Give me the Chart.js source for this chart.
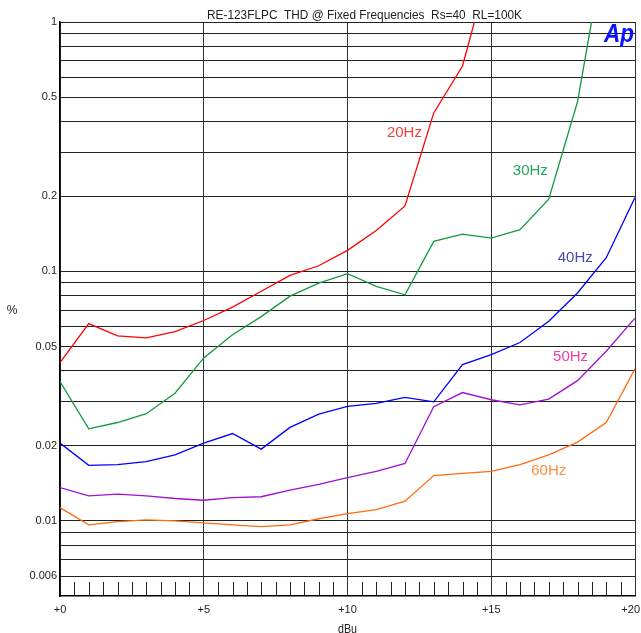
<!DOCTYPE html>
<html>
<head>
<meta charset="utf-8">
<script src="https://cdn.jsdelivr.net/npm/chart.js@4.4.1/dist/chart.umd.min.js"></script>
<style>
  html, body { margin: 0; padding: 0; background: #fff; }
  #wrap { width: 641px; height: 633px; position: relative; }
</style>
</head>
<body>
<div id="wrap"><canvas id="thdChart"></canvas></div>
<script>
// RE-123FLPC THD vs level, fixed frequencies

const levels = [0, 1, 2, 3, 4, 5, 6, 7, 8, 9, 10, 11, 12, 13, 14, 15, 16, 17, 18, 19, 20];

const thd20 = [0.0431, 0.0618, 0.0552, 0.0542, 0.0574, 0.0636, 0.0719, 0.0833, 0.0964, 0.1054, 0.1215,
               0.146, 0.183, 0.432, 0.666, 1.77, null, null, null, null, null];
const thd30 = [0.0362, 0.0234, 0.0248, 0.0269, 0.0325, 0.045, 0.0558, 0.0659, 0.0796, 0.0898, 0.098,
               0.0871, 0.0806, 0.132, 0.141, 0.136, 0.147, 0.195, 0.479, 2.16, null];
const thd40 = [0.0205, 0.0167, 0.0168, 0.0173, 0.0184, 0.0205, 0.0224, 0.0194, 0.0237, 0.0268, 0.0288,
               0.0296, 0.0313, 0.0300, 0.0423, 0.0464, 0.0519, 0.0631, 0.082, 0.1135, 0.198];
const thd50 = [0.0136, 0.0126, 0.0128, 0.0126, 0.0123, 0.0121, 0.0124, 0.0125, 0.0133, 0.0140, 0.0149,
               0.0158, 0.0170, 0.0287, 0.0327, 0.0306, 0.0292, 0.0308, 0.0365, 0.0479, 0.065];
const thd60 = [0.0113, 0.00964, 0.00994, 0.0101, 0.0100, 0.00982, 0.00964, 0.00949, 0.00964, 0.0102, 0.0107,
               0.0111, 0.0120, 0.0152, 0.0155, 0.0158, 0.0168, 0.0184, 0.0207, 0.0248, 0.0407];

const seriesNames = ['20Hz', '30Hz', '40Hz', '50Hz', '60Hz'];
const seriesData = [thd20, thd30, thd40, thd50, thd60];
const lineColors = ['#ff0000', '#119a3c', '#0000ff', '#a010d0', '#ff6a14'];
const labelColors = ['#f04040', '#22a860', '#4a4aa8', '#f03c9c', '#f59040'];
// where each curve's name sits, in data units
const labelAtX = [11.98, 16.36, 17.92, 17.76, 17.0];
const labelAtY = [0.36, 0.253, 0.1135, 0.0453, 0.0159];

const xTicks = [0, 5, 10, 15, 20];
const yGrid = [0.005, 0.006, 0.007, 0.008, 0.009, 0.01, 0.02, 0.03, 0.04, 0.05, 0.06, 0.07, 0.08, 0.09,
               0.1, 0.2, 0.3, 0.4, 0.5, 0.6, 0.7, 0.8, 0.9, 1];
const yLabeled = [1, 0.5, 0.2, 0.1, 0.05, 0.02, 0.01, 0.006];
const xMinor = [0.5, 1, 1.5, 2, 2.5, 3, 3.5, 4, 4.5, 5.5, 6, 6.5, 7, 7.5, 8, 8.5, 9, 9.5,
                10.5, 11, 11.5, 12, 12.5, 13, 13.5, 14, 14.5, 15.5, 16, 16.5, 17, 17.5, 18, 18.5, 19, 19.5];

const TITLE = 'RE-123FLPC  THD @ Fixed Frequencies  Rs=40  RL=100K';
const SANS = '"Liberation Sans", Arial, sans-serif';

// draw text squeezed sideways, the original uses a narrow face
function narrowText(ctx, text, cx, cy, width) {
  const w = ctx.measureText(text).width;
  const k = Math.min(1, width / w);
  ctx.save();
  ctx.translate(cx, cy);
  ctx.scale(k, 1);
  ctx.fillText(text, 0, 0);
  ctx.restore();
}

const decorPlugin = {
  id: 'decor',
  afterDatasetsDraw(chart) {
    const { ctx, chartArea: a, scales: { x, y } } = chart;
    ctx.save();

    // minor ticks along the bottom, inside the plot
    ctx.strokeStyle = '#222';
    ctx.lineWidth = 1;
    xMinor.forEach(v => {
      const px = Math.round(x.getPixelForValue(v)) + 0.5;
      ctx.beginPath();
      ctx.moveTo(px, a.bottom);
      ctx.lineTo(px, a.bottom - 14);
      ctx.stroke();
    });

    // x tick labels, kept inside the canvas at the right end
    ctx.fillStyle = '#222';
    ctx.font = '11px ' + SANS;
    ctx.textAlign = 'center';
    ctx.textBaseline = 'middle';
    xTicks.forEach(v => {
      const t = '+' + v;
      const half = ctx.measureText(t).width / 2;
      const px = Math.min(x.getPixelForValue(v), chart.width - half - 1);
      ctx.fillText(t, px, a.bottom + 14);
    });

    // curve names
    ctx.font = '15px ' + SANS;
    seriesNames.forEach((n, i) => {
      ctx.fillStyle = labelColors[i];
      ctx.fillText(n, x.getPixelForValue(labelAtX[i]), y.getPixelForValue(labelAtY[i]));
    });

    // Ap logo
    ctx.font = 'italic bold 25px ' + SANS;
    ctx.fillStyle = '#0a14ff';
    ctx.textBaseline = 'alphabetic';
    narrowText(ctx, 'Ap', a.right - 16, a.top + 20, 30);

    // title and axis names
    ctx.fillStyle = '#222';
    ctx.font = '13px ' + SANS;
    ctx.textBaseline = 'middle';
    narrowText(ctx, TITLE, (a.left + a.right) / 2 + 17, a.top - 7, 315);

    ctx.font = '12px ' + SANS;
    ctx.fillText('%', 12, 311);
    ctx.textBaseline = 'top';
    narrowText(ctx, 'dBu', (a.left + a.right) / 2, a.bottom + 28, 19);
    ctx.restore();
  }
};

const ctx = document.getElementById('thdChart').getContext('2d');
new Chart(ctx, {
  type: 'line',
  data: {
    datasets: seriesData.map((d, i) => ({
      label: seriesNames[i],
      data: levels.map((lv, j) => ({ x: lv, y: d[j] })),
      borderColor: lineColors[i],
      borderWidth: 1.3,
      pointRadius: 0,
      tension: 0,
      fill: false,
      spanGaps: false
    }))
  },
  options: {
    responsive: true,
    maintainAspectRatio: false,
    animation: false,
    events: [],
    layout: { padding: { top: 22, right: 6, left: 0, bottom: 0 } },
    plugins: { legend: { display: false }, title: { display: false }, tooltip: { enabled: false } },
    scales: {
      x: {
        type: 'linear',
        min: 0, max: 20,
        afterFit: s => { s.height = 37; s.paddingLeft = 0; s.paddingRight = 0; },
        border: { display: true, color: '#000', width: 1.5 },
        grid: { color: '#333', lineWidth: 1, drawTicks: false },
        ticks: { stepSize: 5, display: false }
      },
      y: {
        type: 'logarithmic',
        min: 0.005, max: 1,
        afterFit: s => { s.width = 60; s.paddingTop = 0; s.paddingBottom = 0; },
        afterBuildTicks: s => { s.ticks = yGrid.map(v => ({ value: v })); },
        border: { display: true, color: '#000', width: 1.5 },
        grid: { color: ctx => ctx.tick && ctx.tick.value === 0.005 ? 'rgba(0,0,0,0)' : '#222', lineWidth: 1, drawTicks: false },
        ticks: {
          autoSkip: false,
          padding: 3,
          color: '#222',
          font: { family: SANS, size: 11 },
          callback: v => yLabeled.includes(v) ? String(v) : ''
        }
      }
    }
  },
  plugins: [decorPlugin]
});
</script>
</body>
</html>
